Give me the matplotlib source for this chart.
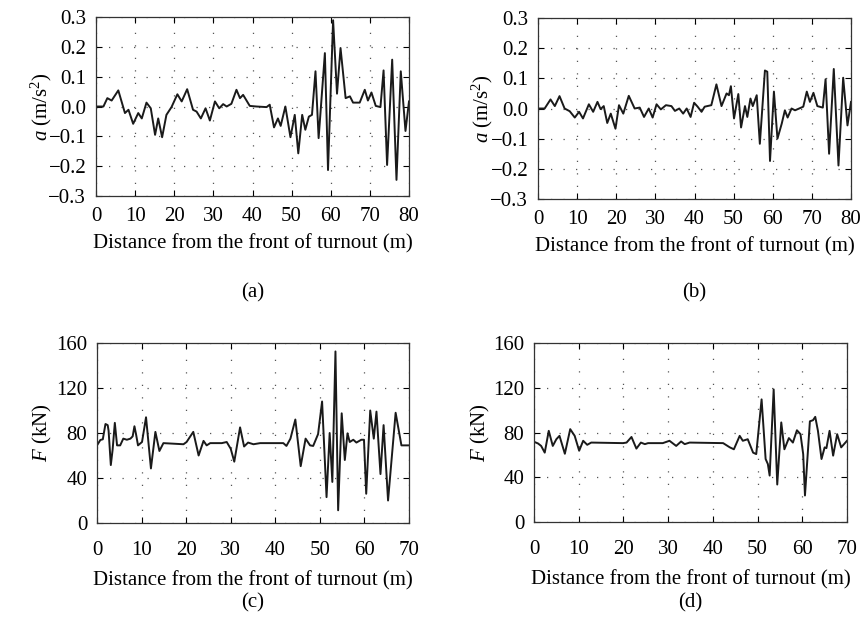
import matplotlib
matplotlib.use("Agg")
import matplotlib.pyplot as plt

plt.rcParams['font.family'] = ['Liberation Serif', 'DejaVu Serif']
plt.rcParams['mathtext.fontset'] = 'custom'
plt.rcParams['mathtext.rm'] = 'Liberation Serif'
plt.rcParams['mathtext.it'] = 'Liberation Serif:italic'
plt.rcParams['font.size'] = 15

# ---- data: panel (a) acceleration ----
a_x = [0, 1.9, 2.9, 4.0, 5.7, 7.4, 8.3, 9.5, 10.8, 11.7, 12.9, 14.0, 15.1, 15.9, 16.9, 18.0,
       19.3, 20.8, 21.9, 23.3, 24.8, 25.7, 26.8, 28.0, 29.1, 30.4, 31.5, 32.5, 33.4, 34.6, 35.9,
       36.8, 37.6, 39.3, 41.0, 43.6, 44.4, 45.5, 46.5, 47.2, 48.4, 49.7, 50.8, 51.7, 52.7, 53.5,
       54.4, 55.2, 56.1, 56.9, 58.5, 59.3, 60.6, 61.6, 62.5, 63.8, 64.9, 65.7, 67.4, 68.7, 69.5,
       70.4, 71.5, 72.7, 73.5, 74.4, 75.7, 76.8, 77.9, 79.1, 80.0]
a_y = [0.0, 0.0, 0.028, 0.020, 0.054, -0.022, -0.011, -0.058, -0.022, -0.040, 0.013, -0.006,
       -0.095, -0.040, -0.103, -0.028, -0.002, 0.041, 0.017, 0.058, -0.011, -0.017, -0.040,
       -0.006, -0.047, 0.017, -0.006, 0.008, 0.0, 0.009, 0.056, 0.028, 0.039, 0.002, 0.0,
       -0.002, 0.006, -0.070, -0.040, -0.065, 0.0, -0.103, -0.028, -0.157, -0.028, -0.078,
       -0.034, -0.028, 0.118, -0.106, 0.179, -0.213, 0.289, 0.043, 0.196, 0.028, 0.034, 0.013,
       0.013, 0.056, 0.020, 0.047, 0.002, -0.002, 0.121, -0.196, 0.157, -0.246, 0.118, -0.082,
       0.017]

# ---- data: panel (b) acceleration ----
b_x = [0, 1.7, 3.2, 4.3, 5.5, 6.8, 8.1, 9.4, 10.5, 11.5, 13.0, 14.1, 15.2, 16.0, 16.8, 17.7,
       18.6, 19.8, 20.7, 21.8, 23.2, 24.7, 26.0, 27.1, 28.3, 29.3, 30.3, 31.4, 32.7, 34.1, 35.0,
       36.1, 37.1, 38.0, 39.0, 39.9, 40.8, 41.8, 42.6, 44.3, 45.6, 46.9, 48.2, 48.8, 49.3, 50.1,
       51.2, 51.9, 52.9, 53.5, 54.3, 54.9, 55.9, 56.7, 58.0, 58.6, 59.3, 60.3, 61.2, 62.3, 63.1,
       63.8, 64.8, 65.7, 67.8, 68.7, 69.5, 70.4, 71.4, 72.8, 73.5, 74.4, 75.6, 76.8, 78.0, 79.1,
       80.0]
b_y = [0.0, 0.0, 0.030, 0.008, 0.041, 0.0, -0.009, -0.030, -0.011, -0.033, 0.014, -0.011,
       0.022, -0.002, 0.008, -0.048, -0.017, -0.067, 0.011, -0.017, 0.042, 0.0, 0.003, -0.028,
       0.0, -0.030, 0.014, -0.003, 0.011, 0.008, -0.008, 0.0, -0.017, 0.0, -0.028, 0.019, 0.006,
       -0.011, 0.006, 0.011, 0.080, 0.008, 0.050, 0.044, 0.074, -0.033, 0.048, -0.063, 0.008,
       -0.028, 0.033, 0.008, 0.044, -0.117, 0.126, 0.122, -0.174, 0.056, -0.100, -0.050, -0.006,
       -0.030, 0.0, -0.006, 0.006, 0.056, 0.022, 0.052, 0.008, 0.003, 0.097, -0.150, 0.131,
       -0.189, 0.102, -0.056, 0.022]

# ---- data: panel (c) force ----
c_x = [0, 0.75, 1.3, 1.9, 2.4, 2.6, 3.1, 3.5, 4.0, 4.5, 5.2, 5.9, 6.7, 7.5, 8.0, 8.4, 8.8, 9.2,
       10.1, 11.0, 12.1, 13.1, 14.0, 14.9, 19.4, 20.1, 21.6, 22.8, 23.9, 24.6, 25.4, 28.0, 29.1,
       30.0, 30.8, 32.1, 33.0, 33.9, 35.1, 36.6, 41.8, 42.5, 43.4, 44.5, 45.7, 46.8, 47.8, 48.5,
       49.6, 50.5, 51.5, 52.2, 52.8, 53.5, 54.1, 54.9, 55.6, 56.2, 56.7, 57.5, 58.2, 59.3, 59.9,
       60.4, 61.3, 62.1, 62.7, 63.6, 64.3, 65.3, 67.0, 68.3, 70.0]
c_y = [69, 73.8, 74.4, 88, 87, 82, 51.5, 65, 89, 69, 69, 75, 74, 75, 77, 86, 78, 69, 72, 94,
       48.5, 81, 64, 71, 70, 72, 81, 60, 73, 69, 71, 71, 72, 66, 54.5, 85, 68, 71.5, 70, 71, 71,
       68.5, 75, 92, 50.5, 75, 69, 68.5, 79, 108, 23, 80, 36.5, 152.5, 11.3, 97.5, 56, 79.7, 72,
       74, 71.5, 74, 74, 26, 100, 75, 99, 43.5, 87, 20, 98, 69, 69]

# ---- data: panel (d) force ----
d_x = [0, 0.9, 1.6, 2.4, 3.3, 4.2, 5.0, 5.7, 6.9, 8.1, 9.1, 10.1, 11.0, 11.9, 12.8, 19.9, 20.7,
       21.8, 22.9, 23.9, 24.8, 25.5, 28.8, 30.3, 31.8, 32.9, 33.7, 34.8, 42.3, 43.8, 44.7, 46.0,
       46.7, 47.8, 49.0, 49.7, 50.9, 51.8, 52.3, 52.7, 53.6, 54.4, 55.3, 56.0, 57.0, 57.9, 58.8,
       59.6, 60.2, 60.6, 61.7, 62.4, 62.9, 63.5, 64.3, 65.0, 65.4, 66.1, 66.9, 67.8, 68.7, 70.0]
d_y = [71.7, 70.2, 68, 62, 81.5, 68, 74, 77, 61, 83, 77, 63.7, 72.6, 69, 71, 70.5, 71, 76, 65.6,
       71, 69.6, 70.5, 70.5, 72.6, 68, 72, 69.6, 71, 70.5, 66.7, 65, 77, 72.6, 74, 62, 60.7,
       109.6, 56.3, 51.8, 41.5, 118.5, 33.5, 89, 65, 75, 71, 82, 78.5, 60.7, 23.7, 90, 91, 94,
       81.5, 56.3, 66.7, 66, 81.5, 59.3, 78.5, 66.7, 72.6]

xlabel = "Distance from the front of turnout (m)"
a_label = r"$a$ (m/s$^2$)"
f_label = r"$F$ (kN)"
acc_ticks = [-0.3, -0.2, -0.1, 0.0, 0.1, 0.2, 0.3]
acc_xticks = [0, 10, 20, 30, 40, 50, 60, 70, 80]
f_ticks = [0, 40, 80, 120, 160]
f_xticks = [0, 10, 20, 30, 40, 50, 60, 70]
tags = ["(a)", "(b)", "(c)", "(d)"]

fig = plt.figure(figsize=(8.65, 6.17), dpi=100)

W, H = 865, 617
def box(l, t, r, b):
    return [l / W, (H - b) / H, (r - l) / W, (b - t) / H]

axes_specs = [
    (box(96, 17, 409, 196), a_x, a_y, acc_xticks, acc_ticks, (0, 80), (-0.3, 0.3), a_label, (253, 293), -0.134),
    (box(538, 18, 851, 199), b_x, b_y, acc_xticks, acc_ticks, (0, 80), (-0.3, 0.3), a_label, (694, 293), -0.137),
    (box(97, 343, 409, 523), c_x, c_y, f_xticks, f_ticks, (0, 70), (0, 160), f_label, (253, 603), -0.138),
    (box(534, 343, 847, 522), d_x, d_y, f_xticks, f_ticks, (0, 70), (0, 160), f_label, (690, 603), -0.134),
]

for i, (rect, xs, ys, xt, yt, xl, yl, ylab, tagpos, ylx) in enumerate(axes_specs):
    ax = fig.add_axes(rect)
    ax.plot(xs, ys, color='#1a1a1a', lw=1.4)
    ax.set_xlim(*xl)
    ax.set_ylim(*yl)
    ax.set_xticks(xt)
    ax.set_yticks(yt)
    if i < 2:
        ax.set_yticklabels([f"{v:.1f}".replace('-', '\u2212') for v in yt])
    ax.grid(True, color='#555555', linestyle=(0, (1, 9)), lw=0.9)
    ax.tick_params(direction='in', top=True, right=True, length=4, width=0.8,
                   labelsize=15)
    ax.tick_params(axis='x', pad=8 if i < 2 else 13)
    ax.tick_params(axis='y', pad=7)
    for s in ax.spines.values():
        s.set_linewidth(0.9)
        s.set_color('#333333')
    ax.set_xlabel(xlabel, fontsize=15, labelpad=6 if i < 2 else 8)
    ax.set_ylabel(ylab, fontsize=15)
    ax.yaxis.set_label_coords(ylx, 0.5)
    fig.text(tagpos[0] / W, 1 - tagpos[1] / H, tags[i], ha='center', va='center', fontsize=15)

fig.savefig("out.png", dpi=100)
